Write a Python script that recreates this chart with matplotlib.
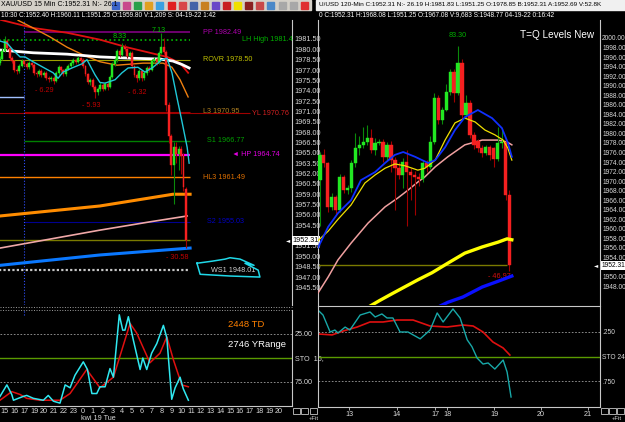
import numpy as np
import matplotlib
matplotlib.use("Agg")
import matplotlib.pyplot as plt
from matplotlib.patches import Rectangle

W, H = 625, 422
NARROW = ["Liberation Sans Narrow", "Liberation Sans", "DejaVu Sans"]
plt.rcParams["font.family"] = NARROW

# ---------------- left chart: XAU/USD 15 min ----------------
l_bars = list(range(-2, 75))
l_close = [1978.6, 1979.8, 1981.2, 1980.2, 1978.8, 1978.3, 1977.0, 1976.8, 1977.6, 1978.3,
           1977.9, 1977.4, 1978.0, 1977.8, 1976.6, 1976.4, 1976.9, 1976.3, 1976.6, 1975.9,
           1975.7, 1975.9, 1975.4, 1976.5, 1977.4, 1977.0, 1976.4, 1977.2, 1977.6, 1978.0,
           1978.4, 1978.2, 1978.7, 1978.5, 1977.6, 1976.4, 1975.3, 1975.6, 1974.6, 1973.8,
           1974.3, 1974.9, 1974.3, 1975.0, 1974.6, 1976.0, 1977.9, 1978.4, 1979.7, 1979.2,
           1980.4, 1980.0, 1979.1, 1979.5, 1977.6, 1976.3, 1975.9, 1976.8, 1975.8, 1976.5,
           1977.3, 1977.0, 1978.3, 1978.6, 1978.1, 1979.5, 1980.3, 1979.6, 1972.0, 1967.5,
           1963.2, 1965.8, 1964.8, 1965.6, 1964.6, 1960.0, 1952.31]
l_open = [1978.0] + l_close[:-1]
l_open[-1] = 1959.80
l_high = [1979.0, 1980.2, 1981.9, 1981.5, 1980.4, 1979.1, 1978.5, 1977.3, 1977.9, 1978.6,
          1978.5, 1978.1, 1978.3, 1978.2, 1978.0, 1976.9, 1977.2, 1977.1, 1976.9, 1976.8,
          1976.1, 1976.2, 1976.1, 1976.8, 1977.7, 1977.6, 1977.2, 1977.5, 1977.9, 1978.3,
          1978.7, 1978.6, 1979.0, 1978.9, 1978.7, 1977.8, 1976.6, 1975.9, 1975.8, 1974.8,
          1974.6, 1975.2, 1975.1, 1975.3, 1975.2, 1976.3, 1978.2, 1978.8, 1980.0, 1980.0,
          1980.9, 1980.8, 1980.2, 1979.8, 1979.7, 1977.8, 1976.5, 1977.1, 1977.0, 1976.8,
          1977.6, 1977.6, 1978.6, 1978.9, 1978.8, 1979.8, 1982.4, 1981.6, 1979.9, 1972.3,
          1967.8, 1966.6, 1966.6, 1966.0, 1966.0, 1965.0, 1960.11]
l_low = [1977.7, 1978.4, 1979.6, 1979.9, 1978.5, 1978.0, 1976.7, 1976.4, 1976.6, 1977.4,
         1977.6, 1977.1, 1977.2, 1977.5, 1976.3, 1976.0, 1976.2, 1976.0, 1976.0, 1975.6,
         1975.2, 1975.4, 1975.0, 1975.2, 1976.3, 1976.7, 1976.1, 1976.2, 1977.0, 1977.4,
         1977.8, 1977.9, 1978.0, 1978.2, 1977.3, 1976.1, 1975.0, 1974.9, 1974.2, 1973.0,
         1973.4, 1974.0, 1974.0, 1974.1, 1974.1, 1974.4, 1975.8, 1977.6, 1978.2, 1978.9,
         1979.0, 1979.7, 1978.8, 1978.9, 1977.3, 1976.0, 1975.3, 1975.6, 1975.4, 1975.6,
         1976.3, 1976.7, 1976.8, 1978.0, 1977.8, 1977.9, 1979.3, 1979.3, 1971.0, 1966.4,
         1961.8, 1957.6, 1963.5, 1962.5, 1962.0, 1959.5, 1951.25]

# moving averages (bar position, price)
l_cyan_x = [-1.9, 1.0, 3.4, 6.3, 8.3, 11.6, 15.7, 19.8, 21.8, 23.8, 27.5, 31.6, 33.6, 36.9, 38.9,
            41.0, 45.1, 47.9, 50.4, 54.4, 57.3, 60.6, 64.2, 66.3, 68.3, 70.4, 72.4, 74.5, 75.3]
l_cyan_y = [1981.2, 1980.9, 1979.9, 1978.9, 1978.9, 1978.2, 1977.4, 1976.6, 1975.8, 1976.7, 1977.3,
            1977.9, 1978.5, 1976.3, 1975.2, 1975.1, 1975.6, 1976.6, 1977.3, 1977.4, 1976.7, 1977.4,
            1978.5, 1978.7, 1976.6, 1972.9, 1969.5, 1965.8, 1963.5]
l_red_x = [-1.9, 11.6, 25.5, 38.9, 49.9, 59.3, 66.3, 71.6, 74.9]
l_red_y = [1984.3, 1983.1, 1982.4, 1981.4, 1980.3, 1979.5, 1978.9, 1978.0, 1976.6]
l_orange_x = [5.5, 11.6, 18.5, 25.5, 32.0, 38.9, 45.9, 56.5, 64.7, 68.3, 71.6, 74.9]
l_orange_y = [1984.2, 1983.1, 1981.8, 1980.3, 1979.2, 1978.2, 1977.7, 1978.0, 1978.0, 1977.4,
              1975.6, 1973.1]
l_white_x = [-1.9, 11.6, 25.5, 38.9, 52.4, 63.4, 68.7, 72.4, 75.3]
l_white_y = [1979.9, 1979.5, 1979.3, 1978.9, 1978.7, 1978.6, 1978.3, 1977.8, 1977.3]
l_thick_orange_x = [-1.9, 38.9, 68.7, 75.7]
l_thick_orange_y = [1955.85, 1957.3, 1959.0, 1959.0]
l_pink_x = [-1.9, 18.5, 38.9, 59.3, 74.5]
l_pink_y = [1951.2, 1952.5, 1953.8, 1955.0, 1955.85]
l_thick_blue_x = [-1.9, 38.9, 75.7]
l_thick_blue_y = [1948.7, 1950.2, 1951.2]

# pivot levels
lvl_names = ["PP 1982.49", "LH High 1981.4", "ROVR 1978.50", "L3 1970.95", "YL 1970.76",
             "S1 1966.77", "\u25c4 HP 1964.74", "HL3 1961.49", "S2 1955.03", "WS1 1948.01"]
lvl_prices = [1982.49, 1981.4, 1978.50, 1970.95, 1970.76, 1966.77, 1964.74, 1961.49, 1955.03, 1948.01]
lvl_line_col = ["#800080", "#00c000", "#a0a000", "#a00000", "#a00000", "#008000", "#ff00ff",
                "#ff8000", "#000090", "#c8c8c8"]
lvl_text_col = ["#b000b0", "#00b000", "#c0c000", "#b08020", "#d02020", "#00a000", "#e000e0",
                "#e07000", "#0000c0", "#d0d0d0"]
lvl_lw = [1.2, 1.2, 0.8, 0.8, 0.8, 1.0, 1.6, 1.0, 0.8, 1.6]
lvl_ls = ["-", ":", "-", "-", "-", "-", "-", "-", "-", (0, (1, 1))]
lvl_x0 = [7.9, -3, -3, 7.9, -3, 7.9, -3, -3, 7.9, -3]
lvl_x1 = [75.7, 75.7, 75.7, 75.7, 100.2, 75.7, 75.7, 75.7, 75.7, 75.7]
lvl_tx = [81.0, 96.9, 81.0, 81.0, 101.0, 82.6, 92.8, 81.0, 82.6, 84.2]

l_swing_text = ["- 6.29", "- 5.93", "- 6.32", "8.33", "7.13", "- 30.58"]
l_swing_x = [16.1, 35.3, 54.0, 47.1, 63.0, 70.4]
l_swing_y = [1974.1, 1971.8, 1973.8, 1981.9, 1982.8, 1949.9]
l_swing_col = ["#c00000", "#c00000", "#c00000", "#00c000", "#00c000", "#c00000"]

# hand drawn mark around WS1
l_circle_x = [78.5, 84.7, 90.0, 92.0, 96.1, 101.8, 98.1, 103.5, 104.2, 92.0, 79.8, 78.5]
l_circle_y = [1949.0, 1949.3, 1949.6, 1949.8, 1949.6, 1948.7, 1949.0, 1948.0, 1947.0, 1947.15,
              1947.4, 1949.0]

l_hours = ["15", "16", "17", "19", "20", "21", "22", "23", "0", "1", "2", "3", "4", "5", "6", "7",
           "8", "9", "10", "11", "12", "13", "14", "15", "16", "17", "18", "19", "20"]

l_sto_fast_x = [-1.9, 0.9, 2.9, 3.6, 5.6, 7.6, 9.0, 11.7, 15.8, 17.8, 19.9, 22.6, 24.7, 26.7, 28.7,
                32.1, 33.8, 35.6, 37.6, 38.9, 41.0, 43.0, 44.4, 46.8, 48.2, 49.1, 50.5, 52.5, 55.3,
                56.4, 58.0, 60.0, 62.1, 64.8, 66.2, 68.2, 69.6, 71.6, 72.9, 75.0]
l_sto_fast_y = [90, 78, 88, 94, 92, 90, 89, 92, 94, 89, 95, 97, 78, 81, 68, 54, 62, 87, 87, 80, 80,
                61, 70, 5, 21, 21, 7, 31, 62, 50, 62, 45, 35, 16, 29, 93, 81, 70, 82, 94]
l_sto_slow_x = [-1.9, 2.9, 6.3, 9.0, 14.4, 22.6, 26.7, 33.5, 38.9, 44.4, 47.8, 51.2, 53.9, 59.3,
                63.4, 66.2, 68.9, 72.3, 75.0]
l_sto_slow_y = [94, 85, 88, 92, 94, 94, 87, 62, 81, 70, 42, 14, 24, 55, 45, 28, 52, 78, 80]

# ---------------- right chart: XAU/USD 120 min ----------------
r_bars = list(range(-7, 42))
r_open = [1970.2, 1975.5, 1973.8, 1964.6, 1966.7, 1964.0, 1970.9, 1968.1, 1968.6, 1973.8,
          1976.9, 1977.5, 1978.2, 1979.0, 1976.5, 1978.0, 1978.3, 1975.0, 1977.6, 1974.4,
          1972.8, 1971.3, 1974.0, 1971.9, 1971.2, 1970.9, 1970.4, 1973.8, 1973.0, 1978.2,
          1987.4, 1982.8, 1985.0, 1988.7, 1992.9, 1988.5, 1994.8, 1983.9, 1986.4, 1979.7,
          1978.5, 1977.0, 1975.9, 1977.1, 1976.9, 1974.6, 1978.0, 1978.3, 1967.08]
r_close = [1975.5, 1973.8, 1964.6, 1966.7, 1964.0, 1970.9, 1968.1, 1968.6, 1973.8, 1976.9,
           1977.5, 1978.2, 1979.0, 1976.5, 1978.0, 1978.3, 1975.0, 1977.6, 1974.4, 1972.8,
           1971.3, 1974.0, 1971.9, 1971.2, 1970.9, 1970.4, 1973.8, 1973.0, 1978.2, 1987.4,
           1982.8, 1985.0, 1988.7, 1992.9, 1988.5, 1994.8, 1983.9, 1986.4, 1979.7, 1977.6,
           1976.9, 1975.9, 1977.1, 1975.4, 1974.6, 1978.0, 1978.3, 1967.1, 1952.31]
r_high = [1976.0, 1976.8, 1974.0, 1967.5, 1967.0, 1971.5, 1971.2, 1969.2, 1974.5, 1980.0,
          1979.5, 1981.3, 1981.7, 1981.0, 1979.0, 1978.9, 1978.8, 1978.3, 1978.5, 1975.0,
          1974.0, 1974.8, 1976.5, 1972.8, 1972.2, 1971.6, 1974.5, 1974.4, 1979.5, 1988.5,
          1988.0, 1985.6, 1990.3, 1993.5, 1993.4, 1998.3, 1995.5, 1988.0, 1987.0, 1980.3,
          1978.8, 1977.5, 1977.6, 1977.5, 1977.2, 1981.3, 1981.0, 1978.8, 1968.08]
r_low = [1960.5, 1973.0, 1963.5, 1964.0, 1963.2, 1963.5, 1967.5, 1967.2, 1967.8, 1973.0,
         1975.5, 1977.0, 1977.5, 1975.8, 1975.5, 1977.5, 1974.0, 1974.5, 1972.0, 1964.0,
         1970.5, 1968.5, 1960.5, 1966.0, 1963.0, 1969.0, 1969.8, 1972.0, 1972.5, 1977.8,
         1982.0, 1982.0, 1984.6, 1988.0, 1986.5, 1988.0, 1983.0, 1983.3, 1979.0, 1976.8,
         1976.0, 1975.0, 1975.4, 1974.4, 1973.0, 1974.2, 1977.0, 1966.0, 1951.25]

r_blue_x = [-7.5, -4.9, -2.4, 0.9, 3.4, 7.0, 9.5, 12.0, 14.1, 17.1, 20.4, 22.2, 24.7, 27.2, 29.7,
            33.0, 36.6, 39.1, 40.6, 41.6]
r_blue_y = [1956.0, 1960.4, 1963.3, 1966.0, 1970.2, 1971.9, 1973.8, 1975.5, 1976.1, 1975.1, 1973.8,
            1974.4, 1977.1, 1980.7, 1983.4, 1984.9, 1983.2, 1981.1, 1978.0, 1975.1]
r_yellow_x = [-7.5, -4.9, -2.4, 0.9, 4.4, 7.0, 9.5, 12.0, 14.6, 17.8, 19.6, 22.2, 24.7, 27.2, 29.7,
              32.3, 34.8, 37.3, 39.4, 40.6, 41.6]
r_yellow_y = [1957.5, 1959.5, 1962.0, 1965.0, 1969.6, 1971.3, 1972.7, 1973.6, 1973.2, 1972.3,
              1972.7, 1974.4, 1978.6, 1982.2, 1983.2, 1982.4, 1980.7, 1979.7, 1978.6, 1976.9, 1974.4]
r_pink_x = [-7.5, -4.9, -2.4, 0.9, 5.2, 9.5, 12.8, 15.3, 17.8, 19.6, 22.2, 25.4, 29.7, 34.1, 38.1,
            40.4, 41.6]
r_pink_y = [1946.5, 1949.9, 1953.5, 1957.0, 1961.2, 1964.6, 1966.5, 1968.1, 1969.8, 1970.9, 1973.0,
            1975.1, 1977.6, 1978.6, 1978.6, 1978.2, 1977.6]
r_thick_yellow_x = [5.7, 8.2, 11.5, 17.8, 21.4, 25.4, 29.7, 34.1, 38.1, 40.4, 41.6]
r_thick_yellow_y = [1943.8, 1945.0, 1946.5, 1949.3, 1950.8, 1952.8, 1954.9, 1956.2, 1957.2, 1957.9,
                    1957.7]
r_thick_blue_x = [23.4, 25.4, 29.2, 34.1, 38.1, 41.6]
r_thick_blue_y = [1943.8, 1944.6, 1945.7, 1947.8, 1949.0, 1950.1]

r_days = ["13", "14", "17", "18", "19", "20", "21"]
r_day_pos = [0.4, 12.5, 22.2, 25.2, 37.1, 49.0, 60.9]

r_sto_fast_x = [-7.5, -6.2, -4.4, -3.2, -2.4, -0.6, 0.6, 3.2, 5.7, 7.0, 8.7, 10.0, 11.5, 13.3,
                15.3, 18.4, 20.9, 22.7, 24.2, 26.7, 28.5, 30.3, 31.5, 32.8, 34.3, 35.6, 37.3,
                39.4, 40.4, 41.4]
r_sto_fast_y = [2.6, 7.7, 25, 23, 26, 20, 23, 7.7, 4.6, 9.7, 6.6, 10.7, 10.7, 25, 25, 32, 23, 5.6,
                14.8, 1.5, 10.7, 33, 40, 51.5, 57.7, 56.6, 62.8, 53.6, 65.8, 91.3]
r_sto_slow_x = [-7.5, -3.9, -1.1, 2.4, 5.7, 9.0, 12.5, 16.6, 20.9, 25.2, 29.2, 31.8, 34.3, 36.8,
                39.4, 41.1]
r_sto_slow_y = [27, 28, 24, 20, 14.8, 14.8, 12.8, 12.8, 18.9, 19.9, 17.9, 18.9, 25, 35.2, 41.3, 48.5]

last_price = 1952.31

UP, DOWN = "#22e822", "#f52020"
UP_WICK, DOWN_WICK = "#0a8a0a", "#a00000"
AXIS_TXT = "#d8d8d8"


def px_box(x0, y0, x1, y1):
    return [x0 / W, 1 - y1 / H, (x1 - x0) / W, (y1 - y0) / H]


def draw_candles(ax, x, o, c, h, l, width):
    o = np.array(o)
    c = np.array(c)
    up = c >= o
    body = np.where(up, UP, DOWN)
    wick = np.where(up, UP_WICK, DOWN_WICK)
    ax.vlines(x, l, h, colors=wick, lw=0.8, zorder=3)
    ax.bar(x, c - o, bottom=o, width=width, color=body, edgecolor=body, lw=0.3, zorder=4)


def style_panel(ax, left=False, size=5.2):
    ax.set_facecolor("none")
    for s in ax.spines.values():
        s.set_visible(False)
    ax.spines["right"].set_visible(True)
    ax.spines["right"].set_color("#c8c8c8")
    ax.spines["right"].set_linewidth(0.8)
    if left:
        ax.spines["left"].set_visible(True)
        ax.spines["left"].set_color("#c8c8c8")
        ax.spines["left"].set_linewidth(0.8)
    ax.yaxis.tick_right()
    ax.tick_params(axis="y", length=0, pad=2, labelsize=size, labelcolor=AXIS_TXT)


fig = plt.figure(figsize=(W / 100, H / 100), dpi=100, facecolor="black")
bg = fig.add_axes([0, 0, 1, 1])
bg.set_xlim(0, W)
bg.set_ylim(H, 0)
bg.axis("off")

# title bars
bg.add_patch(Rectangle((0, 0), 311, 10, color="#d4d0c8"))
bg.add_patch(Rectangle((316, 0), 309, 10, color="#f0f0f0"))
bg.text(1, 5, "XAU/USD 15 Min C:1952.31 N:- 26.1", va="center", size=5.0, color="black")
bg.text(319, 5, "U/USD 120-Min C:1952.31 N:- 26.19 H:1981.83 L:1951.25 O:1978.85 "
        "B:1952.31 A:1952.69 V:52.8K", va="center", size=4.6, color="black")
icon_cols = ["#3c64c8", "#c84a8c", "#2aa04a", "#e0a020", "#3aa0e0", "#e02020", "#d84848", "#4464a8",
             "#c88020", "#6a48c8", "#c82020", "#f0e000", "#8a2020", "#c84848", "#4a88c8", "#a8a8a8",
             "#a8a8a8", "#e03030"]
for i, col in enumerate(icon_cols):
    bg.add_patch(Rectangle((112 + i * 11.1, 1.5), 7, 7, color=col))
bg.text(1, 15, "10:30 C:1952.40 H:1960.11 L:1951.25 O:1959.80 V:1,209 S: 04-19-22 1:42",
        va="center", size=4.7, color="white")
bg.text(319, 15, "0 C:1952.31 H:1968.08 L:1951.25 O:1967.08 V:9,683 S:1948.77 04-19-22 0:16:42",
        va="center", size=4.7, color="white")

# ---- left main ----
ax = fig.add_axes(px_box(0, 20, 292, 305))
style_panel(ax)
ax.set_xlim(-1.9, 117.3)
ax.set_ylim(1942.95, 1984.25)
ticks = [v for v in np.arange(1945.5, 1982.0, 1.5) if abs(v - 1953.0) > 0.1]
ax.set_yticks(ticks)
ax.set_yticklabels([f"{v:.2f}" for v in ticks])
ax.set_xticks([])

ax.hlines(1973.1, -3, 7.9, color="#a0c0ff", lw=1.0)
for name, p, lc, tc, lw, ls, x0, x1, tx in zip(lvl_names, lvl_prices, lvl_line_col, lvl_text_col,
                                                lvl_lw, lvl_ls, lvl_x0, lvl_x1, lvl_tx):
    ax.hlines(p, x0, x1, color=lc, lw=lw, linestyles=ls, zorder=2)
    ax.text(tx, p, name, color=tc, size=5.2, va="center", zorder=6)
ax.hlines(last_price, -3, 75.5, color="#7a7a00", lw=1.0, zorder=2)
ax.axvline(7.9, color="#3050ff", lw=0.8, ls=":", zorder=2)

ax.plot(l_thick_orange_x, l_thick_orange_y, color="#ff8c00", lw=2.2, zorder=3)
ax.plot(l_pink_x, l_pink_y, color="#f0a8a8", lw=1.2, zorder=3)
ax.plot(l_thick_blue_x, l_thick_blue_y, color="#0a78ff", lw=2.2, zorder=3)
ax.plot(l_red_x, l_red_y, color="#e01010", lw=1.3, zorder=3)
ax.plot(l_orange_x, l_orange_y, color="#f08010", lw=1.0, zorder=3)
ax.plot(l_white_x, l_white_y, color="white", lw=2.0, zorder=3)
draw_candles(ax, l_bars, l_open, l_close, l_high, l_low, 0.8)
ax.plot(l_cyan_x, l_cyan_y, color="#20c8d8", lw=1.0, zorder=5)

for t, x, y, c in zip(l_swing_text, l_swing_x, l_swing_y, l_swing_col):
    ax.text(x, y, t, color=c, size=5.2, ha="center", va="center", zorder=6)
ax.plot(l_circle_x, l_circle_y, color="#20d8e8", lw=1.1, zorder=6, clip_on=False)
ax.text(1.003, last_price, "1952.31", transform=ax.get_yaxis_transform(), color="black", size=5.2,
        va="center", bbox=dict(boxstyle="square,pad=0.12", fc="white", ec="none"))
ax.text(0.978, last_price, "\u25c4", transform=ax.get_yaxis_transform(), color="white", size=4,
        va="center", family="DejaVu Sans")

# separator
bg.hlines([306.5, 309.5], 0, 292, color="#a0a0a0", lw=0.7, linestyles=":")

# ---- left stochastic ----
ax2 = fig.add_axes(px_box(0, 310, 292, 406))
style_panel(ax2)
ax2.spines["bottom"].set_visible(True)
ax2.spines["bottom"].set_color("#c8c8c8")
ax2.set_xlim(-1.9, 117.3)
ax2.set_ylim(100, 0)
ax2.axhline(50, color="#5a9a00", lw=1.0)
ax2.axhline(25, color="#a0a0a0", lw=0.6, ls=(0, (2, 2)))
ax2.axhline(75, color="#a0a0a0", lw=0.6, ls=(0, (2, 2)))
ax2.plot(l_sto_slow_x, l_sto_slow_y, color="#e01010", lw=1.1)
ax2.plot(l_sto_fast_x, l_sto_fast_y, color="#30e8f0", lw=1.1)
ax2.set_yticks([25, 50, 75])
ax2.set_yticklabels(["25.00", "STO  15,", "75.00"])
ax2.set_xticks([4 * i for i in range(len(l_hours))])
ax2.set_xticklabels(l_hours)
ax2.tick_params(axis="x", length=0, pad=1.5, labelsize=5.2, labelcolor=AXIS_TXT)
ax2.axvline(7.9, ymin=0.95, color="#3050ff", lw=0.8, ls=":")
ax2.text(0.78, 0.85, "2448 TD", transform=ax2.transAxes, color="#ff8000", size=6.8,
         family=["Liberation Sans", "DejaVu Sans"], va="center")
ax2.text(0.78, 0.64, "2746 YRange", transform=ax2.transAxes, color="white", size=6.8,
         family=["Liberation Sans", "DejaVu Sans"], va="center")
bg.text(98, 418, "kwi 19 Tue", ha="center", va="center", size=5.2, color=AXIS_TXT)

# ---- right main ----
ax3 = fig.add_axes(px_box(318, 20, 600, 305))
style_panel(ax3, left=True, size=4.8)
ax3.tick_params(axis="y", pad=1.5)
ax3.set_xlim(-7.47, 63.92)
ax3.set_ylim(1944.03, 2003.77)
rticks = [v for v in np.arange(1948, 2001, 2) if v != 1952]
ax3.set_yticks(rticks)
ax3.set_yticklabels([f"{v:.2f}" for v in rticks])
ax3.set_xticks([])
ax3.hlines(last_price, -8, 40.5, color="#7a7a00", lw=1.0, zorder=2)
ax3.plot(r_pink_x, r_pink_y, color="#f0a0a0", lw=1.1, zorder=3)
draw_candles(ax3, r_bars, r_open, r_close, r_high, r_low, 0.85)
ax3.plot(r_yellow_x, r_yellow_y, color="#f0e000", lw=0.9, zorder=5)
ax3.plot(r_blue_x, r_blue_y, color="#1030ff", lw=1.3, zorder=5)
ax3.plot(r_thick_yellow_x, r_thick_yellow_y, color="#ffff00", lw=2.4, zorder=5)
ax3.plot(r_thick_blue_x, r_thick_blue_y, color="#0a10ff", lw=2.4, zorder=5)
ax3.text(28.0, 2000.6, "83.30", color="#00b000", size=5.2, ha="center", va="center")
ax3.text(38.5, 1950.0, "- 46.97", color="#d01010", size=5.2, ha="center", va="center")
ax3.text(0.715, 0.947, "T=Q Levels New", transform=ax3.transAxes, color="white", size=7.2,
         family=["Liberation Sans", "DejaVu Sans"], va="center")
ax3.text(1.006, last_price, "1952.31", transform=ax3.get_yaxis_transform(), color="black", size=4.8,
         va="center", bbox=dict(boxstyle="square,pad=0.1", fc="white", ec="none"))
ax3.text(0.978, last_price, "\u25c4", transform=ax3.get_yaxis_transform(), color="white", size=4,
         va="center", family="DejaVu Sans")

# ---- right stochastic ----
ax4 = fig.add_axes(px_box(318, 306, 600, 407))
style_panel(ax4, left=True, size=4.8)
ax4.tick_params(axis="y", pad=1.5)
ax4.spines["bottom"].set_visible(True)
ax4.spines["bottom"].set_color("#c8c8c8")
ax4.spines["top"].set_visible(True)
ax4.spines["top"].set_color("#c8c8c8")
ax4.set_xlim(-7.47, 63.92)
ax4.set_ylim(101.5, -1.5)
ax4.axhline(50, color="#5a9a00", lw=1.0)
ax4.axhline(25, color="#a0a0a0", lw=0.6, ls=(0, (2, 2)))
ax4.axhline(75, color="#a0a0a0", lw=0.6, ls=(0, (2, 2)))
ax4.plot(r_sto_slow_x, r_sto_slow_y, color="#e01010", lw=1.2)
ax4.plot(r_sto_fast_x, r_sto_fast_y, color="#18a8a8", lw=1.0)
ax4.set_yticks([25, 50, 75])
ax4.set_yticklabels([".250", "STO 24", ".750"])
ax4.set_xticks(r_day_pos)
ax4.set_xticklabels(r_days)
ax4.tick_params(axis="x", length=2, width=0.6, color="#c8c8c8", pad=1, labelsize=5.2,
                labelcolor=AXIS_TXT)

# small corner boxes
for x0 in [292, 300.5, 309, 600, 608.5, 616.5]:
    bg.add_patch(Rectangle((x0 + 0.5, 408), 7, 6, fill=False, ec="#c8c8c8", lw=0.6))
bg.text(309, 419, "+Fit", size=4.2, color=AXIS_TXT, va="center")
bg.text(612, 419, "+Fit", size=4.2, color=AXIS_TXT, va="center")

fig.savefig("out.png", dpi=100, facecolor="black")
